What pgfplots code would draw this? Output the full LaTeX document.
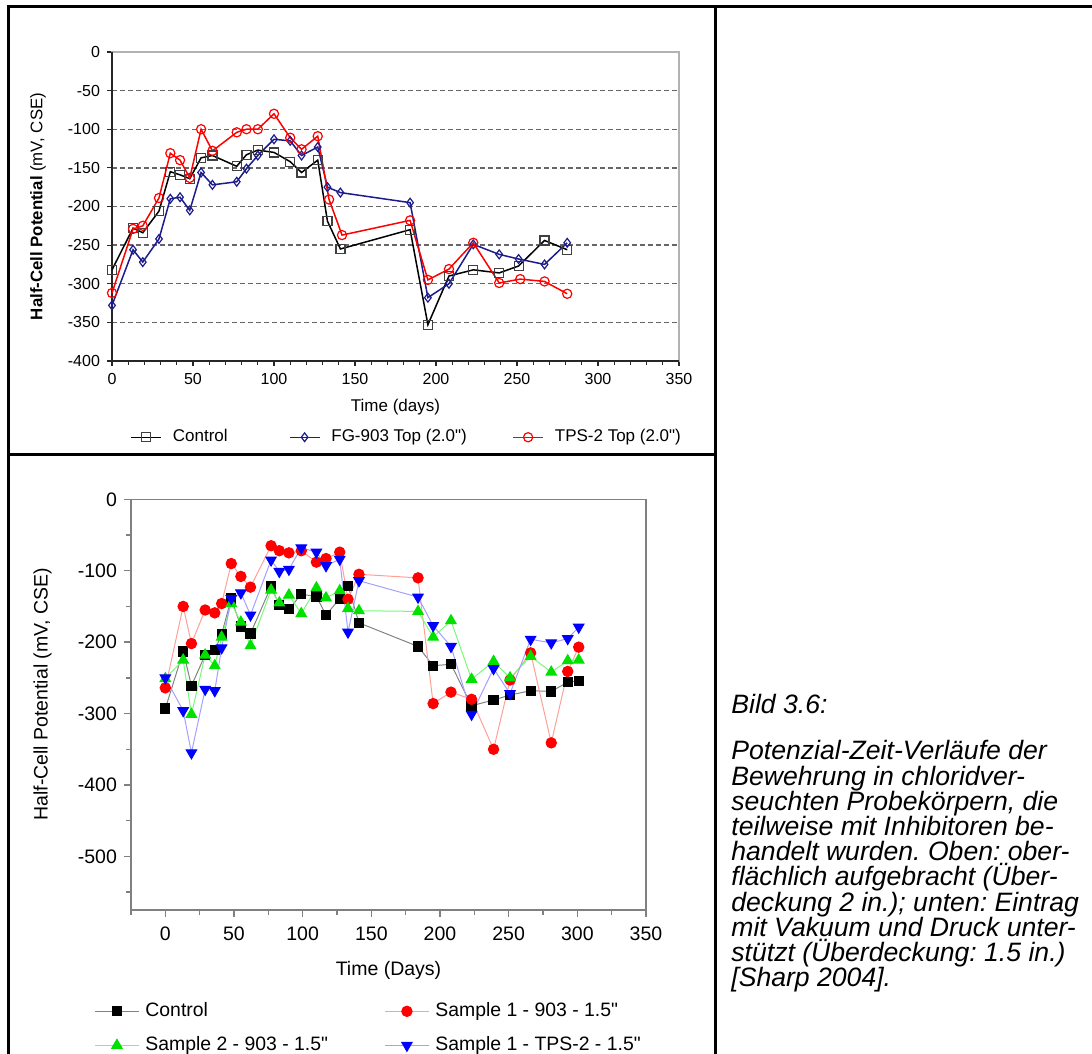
\documentclass[border=0pt]{standalone}
\usepackage{fontspec}
\setmainfont{Liberation Sans}[Ligatures=TeXOff]
\usepackage{pgfplots}
\pgfplotsset{compat=1.18}

\definecolor{fgblue}{RGB}{28,28,140}
\definecolor{ctrlline}{RGB}{130,130,130}
\definecolor{redline}{RGB}{255,160,150}
\definecolor{greenline}{RGB}{120,250,120}
\definecolor{greenmark}{RGB}{0,225,0}
\definecolor{blueline}{RGB}{165,160,255}

\begin{document}
\frenchspacing
\begin{tikzpicture}
\path[use as bounding box] (0,0) rectangle (546pt,527pt);
\clip (0,0) rectangle (546pt,527pt);

% table frame
\draw[line width=1.5pt] (4pt,0) -- (4pt,523.5pt) -- (546pt,523.5pt);
\draw[line width=1.5pt] (357.5pt,0) -- (357.5pt,523.5pt);
\draw[line width=1.5pt] (4pt,299.5pt) -- (357.5pt,299.5pt);

%% top chart: surface applied
\begin{axis}[
    at={(56pt,346.5pt)}, anchor=south west,
    scale only axis, width=283.5pt, height=154.5pt,
    clip=false,
    xmin=0, xmax=350, ymin=-400, ymax=0,
    xtick={0,50,...,350}, minor x tick num=4,
    ytick={-400,-350,...,0},
    tick align=outside, tick pos=left,
    major tick length=2.5pt, minor tick length=2pt,
    every tick/.style={gray!30!black, line width=0.6pt},
    ymajorgrids, grid style={dash pattern=on 2.3pt off 1.7pt, black!60, line width=0.7pt},
    axis line style={gray!60, line width=0.7pt},
    /pgf/number format/assume math mode=true,
    tick label style={font=\fontsize{8}{9.6}\selectfont},
    xlabel={Time (days)},
    xlabel style={font=\fontsize{8.5}{10}\selectfont, at={(axis description cs:0.5,-0.149)}, anchor=center},
    ylabel={\textbf{Half-Cell Potential} (mV, CSE)},
    ylabel style={font=\fontsize{8.4}{10}\selectfont, at={(axis description cs:-0.1305,0.5)}, anchor=center},
    legend columns=3, legend cell align=left,
    legend style={at={(axis description cs:0.0317,-0.2468)}, anchor=west, draw=none, fill=none,
      inner sep=0pt, font=\fontsize{8.5}{10}\selectfont, nodes={inner sep=0pt},
      /tikz/every odd column/.append style={column sep=5.5pt}},
    legend image code/.code={\draw[mark repeat=2,mark phase=2,#1] plot coordinates {(0pt,0pt) (7.5pt,0pt) (15pt,0pt)};},
  ]
  \draw[gray!30!black, line width=0.7pt] (rel axis cs:0,1) -- (rel axis cs:0,0) -- (rel axis cs:1,0);
  %% Control
  \addplot[black, line width=0.75pt, mark=square, mark size=2.25pt, mark options={solid, draw=black!75, line width=0.6pt}] coordinates {
    (0,-282) (13,-228) (19,-234) (29,-206) (36,-155) (42,-159) (48,-164) (55,-137) (62,-134)
    (77,-148) (83,-133) (90,-127) (100,-130) (110,-142) (117,-156) (127,-140) (133,-219)
    (141,-255) (184,-230) (195,-353) (208,-290) (223,-282) (239,-286) (251,-277) (267,-244) (281,-256)
  };
  \addlegendentry{\makebox[58pt][l]{Control}}
  %% FG-903
  \addplot[fgblue, line width=0.75pt, mark=diamond, mark size=2.2pt, mark options={solid, line width=0.6pt}] coordinates {
    (0,-328) (13,-256) (19,-272) (29,-242) (36,-190) (42,-188) (48,-205) (55,-156) (62,-172)
    (77,-168) (83,-151) (90,-134) (100,-113) (110,-115) (117,-134) (127,-123) (133,-175)
    (141,-182) (184,-195) (195,-318) (208,-300) (223,-249) (239,-262) (251,-268) (267,-275) (281,-247)
  };
  \addlegendentry{\makebox[90.5pt][l]{FG-903 Top (2.0")}}
  %% TPS-2
  \addplot[red, line width=0.75pt, mark=o, mark size=2.3pt, mark options={solid, line width=0.6pt}] coordinates {
    (0,-312) (13,-229) (19,-225) (29,-189) (36,-131) (42,-140) (48,-163) (55,-100) (62,-128)
    (77,-104) (83,-100) (90,-100) (100,-80) (110,-111) (117,-126) (127,-109) (134,-191)
    (142,-237) (184,-218) (195,-295) (208,-281) (223,-247) (239,-299) (252,-294) (267,-297) (281,-313)
  };
  \addlegendentry{TPS-2 Top (2.0")}
\end{axis}

%% bottom chart: vacuum/pressure
\begin{axis}[
    at={(65.5pt,72pt)}, anchor=south west,
    scale only axis, width=257.5pt, height=205.35pt,
    xmin=-25, xmax=350, ymin=-575, ymax=0,
    xtick={0,50,...,350}, minor xtick={-25,25,...,325},
    ytick={-500,-400,...,0}, minor ytick={-550,-450,...,-50},
    tick align=outside, tick pos=left,
    major tick length=3.5pt, minor tick length=2.5pt,
    every tick/.style={gray, line width=0.7pt},
    axis line style={gray, line width=0.7pt},
    /pgf/number format/assume math mode=true,
    tick label style={font=\fontsize{9.75}{11}\selectfont},
    xticklabel style={yshift=-1.5pt},
    xlabel={Time (Days)},
    xlabel style={font=\fontsize{9.75}{11}\selectfont, at={(axis description cs:0.5,-0.146)}, anchor=center},
    ylabel={Half-Cell Potential (mV, CSE)},
    ylabel style={font=\fontsize{9.75}{11}\selectfont, at={(axis description cs:-0.1718,0.5255)}, anchor=center},
    legend columns=2, legend cell align=left,
    legend style={at={(axis description cs:-0.0718,-0.2238)}, anchor=north west, draw=none, fill=none,
      inner sep=0pt, font=\fontsize{9.7}{11}\selectfont,
      nodes={inner sep=0pt, text height=7pt, text depth=2pt}, row sep=8pt,
      /tikz/every odd column/.append style={column sep=3pt}},
    legend image code/.code={\draw[mark repeat=2,mark phase=2,#1] plot coordinates {(0pt,0pt) (11pt,0pt) (22pt,0pt)};},
  ]
  %% Control
  \addplot[ctrlline, line width=0.5pt, mark=square*, mark size=2.3pt, mark options={solid, draw=black, fill=black}] coordinates {
    (0,-293) (13,-213) (19,-261) (29,-218) (36,-211) (41,-189) (48,-139) (55,-178) (62,-188)
    (77,-122) (83,-148) (90,-154) (99,-133) (110,-136) (117,-162) (127,-139) (133,-121) (141,-173)
    (184,-206) (195,-233) (208,-231) (223,-289) (239,-281) (251,-274) (266,-268) (281,-269) (293,-256) (301,-254)
  };
  \addlegendentry{\makebox[119.5pt][l]{Control}}
  %% Sample 1 - 903
  \addplot[redline, line width=0.5pt, mark=*, mark size=2.6pt, mark options={solid, draw=red, fill=red}] coordinates {
    (0,-264) (13,-150) (19,-202) (29,-155) (36,-159) (41,-146) (48,-90) (55,-108) (62,-123)
    (77,-65) (83,-72) (90,-75) (99,-72) (110,-88) (117,-83) (127,-74) (133,-140) (141,-105)
    (184,-110) (195,-286) (208,-270) (223,-280) (239,-350) (251,-253) (266,-215) (281,-341) (293,-241) (301,-207)
  };
  \addlegendentry{Sample 1 - 903 - 1.5"}
  %% Sample 2 - 903
  \addplot[greenline, line width=0.5pt, mark=triangle*, mark size=3pt, mark options={solid, draw=greenmark, fill=greenmark}] coordinates {
    (0,-251) (13,-225) (19,-301) (29,-218) (36,-233) (41,-193) (48,-146) (55,-172) (62,-205)
    (77,-127) (83,-145) (90,-134) (99,-160) (110,-124) (117,-138) (127,-128) (133,-153) (141,-156)
    (184,-157) (195,-193) (208,-170) (223,-252) (239,-227) (251,-250) (266,-220) (281,-242) (293,-226) (301,-225)
  };
  \addlegendentry{\makebox[119.5pt][l]{Sample 2 - 903 - 1.5"}}
  %% Sample 1 - TPS-2
  \addplot[blueline, line width=0.5pt, mark=triangle*, mark size=3pt, mark options={solid, draw=blue, fill=blue, rotate=180}] coordinates {
    (0,-250) (13,-296) (19,-355) (29,-266) (36,-268) (41,-208) (48,-139) (55,-131) (62,-162)
    (77,-85) (83,-101) (90,-98) (99,-68) (110,-74) (117,-93) (127,-84) (133,-186) (141,-114)
    (184,-137) (195,-177) (208,-206) (223,-301) (239,-237) (251,-272) (266,-196) (281,-201) (293,-195) (301,-179)
  };
  \addlegendentry{Sample 1 - TPS-2 - 1.5"}
\end{axis}

%% caption
\node[anchor=base west, inner sep=0pt, font=\fontsize{13.3}{12.6}\selectfont\itshape] at (365.5pt,170.25pt) {Bild 3.6:};
\foreach \t [count=\i from 0] in {{Potenzial-Zeit-Verläufe der},{Bewehrung in chloridver-},{seuchten Probekörpern, die},{teilweise mit Inhibitoren be-},{handelt wurden. Oben: ober-},{flächlich aufgebracht (Über-},{deckung 2 in.); unten: Eintrag},{mit Vakuum und Druck unter-},{stützt (Überdeckung: 1.5 in.)},{[Sharp 2004].}}
  \node[anchor=base west, inner sep=0pt, font=\fontsize{13.3}{12.6}\selectfont\itshape] at (365.5pt,147pt-\i*12.6pt) {\t};
\end{tikzpicture}
\end{document}
